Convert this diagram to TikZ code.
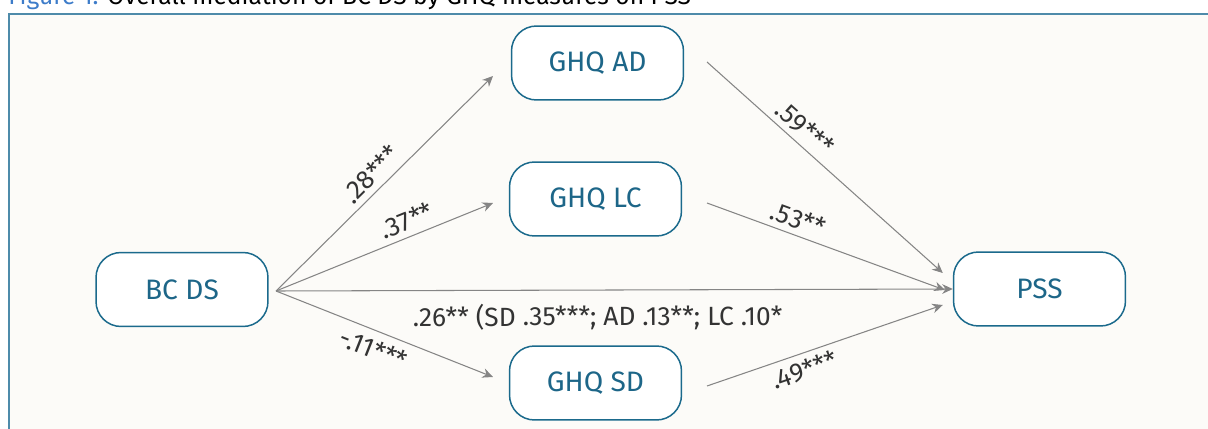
\documentclass[tikz,border=0pt]{standalone}
\usepackage{fontspec}
\setmainfont{Fira Sans}
\usetikzlibrary{arrows.meta}
\definecolor{boxline}{HTML}{1B6A8C}
\definecolor{boxtext}{HTML}{1D6688}
\definecolor{frameline}{HTML}{4E8BAA}
\definecolor{panel}{HTML}{FCFBF8}
\definecolor{linkgray}{HTML}{858585}
\definecolor{captionblue}{HTML}{3D7CC9}
\tikzset{var/.style={draw=boxline,line width=0.85pt,fill=white,rounded corners=0.5cm,
                     minimum width=3.44cm,minimum height=1.48cm,text=boxtext,
                     font=\fontsize{16}{19}\selectfont},
         link/.style={draw=linkgray,line width=0.6pt,-{Stealth[length=6pt,width=5.5pt]}},
         coef/.style={text=black!80,font=\fontsize{15}{18}\selectfont,sloped}}

\begin{document}
\begin{tikzpicture}[x=0.02cm,y=-0.02cm]
    \useasboundingbox (0,0) rectangle (1208,429);
    \draw[frameline,fill=panel,line width=0.9pt] (9,14) rectangle (1230,450);
    \node[anchor=base west,inner sep=0pt,font=\fontsize{14}{17}\selectfont] (caption) at (8,4.5)
        {\textcolor{captionblue}{Figure 1.} Overall mediation of BC DS by GHQ measures on PSS};

    % variables
    \node[var] (bc)  at (182,289.5) {BC DS};
    \node[var] (ad)  at (597.5,63)  {GHQ AD};
    \node[var] (lc)  at (595.5,199) {GHQ LC};
    \node[var] (sd)  at (595.5,383) {GHQ SD};
    \node[var] (pss) at (1039.5,289) {PSS};

    % arrow ends
    \coordinate (fork)  at (276,291);
    \coordinate (adin)  at (493,76);
    \coordinate (lcin)  at (493,203);
    \coordinate (sdin)  at (493,377);
    \coordinate (adout) at (707,62);
    \coordinate (lcout) at (707,203);
    \coordinate (sdout) at (707,386);

    \draw[link] (fork) -- node[coef,above,pos=0.49]{.28***} (adin);
    \draw[link] (fork) -- node[coef,above,pos=0.63]{.37**} (lcin);
    \draw[link] (fork) -- node[coef,below=1pt,pos=0.48]{-.11***} (sdin);
    \draw[link] (fork) -- node[coef,below=4pt,pos=0.475]{.26** (SD .35***; AD .13**; LC .10*} (pss.west);
    \draw[link] (adout) -- node[coef,above,pos=0.37]{.59***} ([xshift=-0.2cm,yshift=0.32cm]pss.west);
    \draw[link] (lcout) -- node[coef,above,pos=0.36]{.53**} ([xshift=-0.16cm,yshift=-0.02cm]pss.west);
    \draw[link] (sdout) -- node[coef,below,pos=0.39]{.49***} ([xshift=-0.2cm,yshift=-0.32cm]pss.west);
\end{tikzpicture}
\end{document}
